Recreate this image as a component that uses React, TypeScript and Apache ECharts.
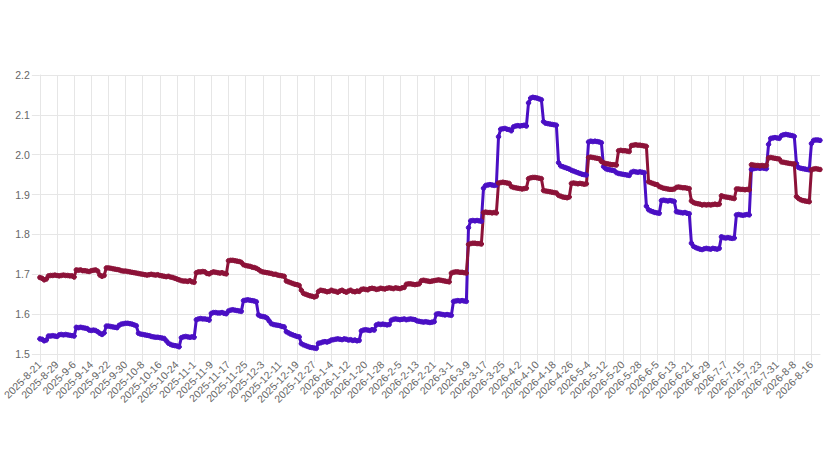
import React, { useEffect, useRef } from "react";
import * as echarts from "echarts";

const START_DATE = [2025, 8, 21];
const DAY_COUNT = 365;
const LABEL_EVERY = 8;
const Y_TICKS = [1.5, 1.6, 1.7, 1.8, 1.9, 2.0, 2.1, 2.2];

// red series, one value per day, 8 days per row
const redSeries = [
  1.692, 1.690, 1.686, 1.688, 1.696, 1.697, 1.697, 1.698,
  1.697, 1.696, 1.697, 1.698, 1.697, 1.697, 1.696, 1.696,
  1.693, 1.711, 1.710, 1.711, 1.709, 1.709, 1.708, 1.707,
  1.709, 1.710, 1.711, 1.708, 1.698, 1.695, 1.697, 1.716,
  1.716, 1.715, 1.714, 1.713, 1.712, 1.711, 1.709, 1.708,
  1.708, 1.707, 1.706, 1.705, 1.704, 1.703, 1.702, 1.701,
  1.700, 1.699, 1.698, 1.699, 1.700, 1.699, 1.698, 1.699,
  1.697, 1.696, 1.695, 1.694, 1.695, 1.693, 1.692, 1.690,
  1.688, 1.686, 1.684, 1.683, 1.683, 1.682, 1.684, 1.681,
  1.680, 1.704, 1.706, 1.706, 1.707, 1.706, 1.702, 1.701,
  1.704, 1.706, 1.705, 1.704, 1.703, 1.704, 1.702, 1.701,
  1.734, 1.735, 1.735, 1.734, 1.733, 1.732, 1.730, 1.724,
  1.722, 1.721, 1.720, 1.718, 1.717, 1.715, 1.712, 1.708,
  1.706, 1.705, 1.704, 1.703, 1.702, 1.700, 1.700, 1.698,
  1.697, 1.696, 1.695, 1.683, 1.681, 1.679, 1.677, 1.675,
  1.674, 1.672, 1.660, 1.652, 1.650, 1.648, 1.646, 1.645,
  1.643, 1.645, 1.657, 1.660, 1.659, 1.658, 1.656, 1.657,
  1.660, 1.658, 1.657, 1.655, 1.658, 1.660, 1.657, 1.655,
  1.658, 1.660, 1.657, 1.656, 1.658, 1.657, 1.662, 1.663,
  1.662, 1.661, 1.664, 1.665, 1.664, 1.662, 1.663, 1.665,
  1.664, 1.663, 1.665, 1.666, 1.665, 1.664, 1.666, 1.665,
  1.664, 1.666, 1.667, 1.675, 1.676, 1.676, 1.675, 1.674,
  1.675, 1.676, 1.684, 1.685, 1.684, 1.683, 1.682, 1.683,
  1.684, 1.685, 1.686, 1.685, 1.684, 1.683, 1.682, 1.681,
  1.703, 1.705, 1.706, 1.706, 1.705, 1.705, 1.704, 1.703,
  1.775, 1.777, 1.778, 1.778, 1.777, 1.777, 1.776, 1.855,
  1.856, 1.855, 1.855, 1.854, 1.855, 1.854, 1.929, 1.930,
  1.931, 1.930, 1.929, 1.928, 1.920, 1.918, 1.917, 1.916,
  1.915, 1.914, 1.915, 1.916, 1.940, 1.942, 1.943, 1.943,
  1.942, 1.941, 1.940, 1.910, 1.909, 1.908, 1.907, 1.906,
  1.905, 1.904, 1.898, 1.896, 1.894, 1.893, 1.892, 1.894,
  1.928, 1.929, 1.928, 1.927, 1.928, 1.927, 1.926, 1.927,
  1.993, 1.994, 1.993, 1.992, 1.991, 1.990, 1.983, 1.980,
  1.978, 1.977, 1.976, 1.975, 1.975, 1.974, 2.010, 2.011,
  2.010, 2.010, 2.009, 2.008, 2.023, 2.024, 2.025, 2.024,
  2.024, 2.023, 2.022, 2.021, 1.932, 1.930, 1.928, 1.926,
  1.925, 1.920, 1.918, 1.916, 1.915, 1.914, 1.913, 1.913,
  1.914, 1.918, 1.919, 1.918, 1.917, 1.917, 1.916, 1.915,
  1.884, 1.880, 1.878, 1.877, 1.876, 1.874, 1.875, 1.874,
  1.875, 1.874, 1.875, 1.876, 1.875, 1.876, 1.897, 1.895,
  1.894, 1.893, 1.892, 1.891, 1.890, 1.914, 1.914, 1.913,
  1.913, 1.912, 1.913, 1.912, 1.975, 1.974, 1.973, 1.973,
  1.972, 1.973, 1.972, 1.973, 1.992, 1.993, 1.992, 1.991,
  1.990, 1.989, 1.982, 1.981, 1.980, 1.979, 1.978, 1.977,
  1.977, 1.895, 1.890, 1.887, 1.885, 1.884, 1.883, 1.882,
  1.962, 1.964, 1.965, 1.964, 1.963,
];

// blue series, one value per day, 8 days per row
const blueSeries = [
  1.538, 1.537, 1.533, 1.535, 1.545, 1.545, 1.546, 1.545,
  1.544, 1.548, 1.549, 1.548, 1.549, 1.548, 1.547, 1.546,
  1.545, 1.567, 1.566, 1.567, 1.566, 1.565, 1.564, 1.560,
  1.559, 1.560, 1.559, 1.556, 1.552, 1.549, 1.553, 1.570,
  1.570, 1.569, 1.568, 1.567, 1.566, 1.572, 1.575, 1.576,
  1.577, 1.577, 1.576, 1.575, 1.573, 1.571, 1.552, 1.550,
  1.549, 1.548, 1.547, 1.546, 1.544, 1.543, 1.542, 1.542,
  1.541, 1.540, 1.539, 1.533, 1.527, 1.524, 1.522, 1.521,
  1.520, 1.518, 1.541, 1.543, 1.544, 1.543, 1.542, 1.543,
  1.542, 1.586, 1.588, 1.589, 1.588, 1.588, 1.587, 1.585,
  1.602, 1.604, 1.604, 1.603, 1.603, 1.604, 1.602, 1.601,
  1.608, 1.610, 1.611, 1.610, 1.609, 1.608, 1.607, 1.634,
  1.635, 1.636, 1.635, 1.634, 1.633, 1.631, 1.598, 1.595,
  1.594, 1.593, 1.590, 1.583, 1.576, 1.574, 1.573, 1.572,
  1.571, 1.569, 1.568, 1.556, 1.553, 1.550, 1.548, 1.546,
  1.544, 1.543, 1.526, 1.523, 1.521, 1.519, 1.517, 1.516,
  1.515, 1.514, 1.527, 1.528, 1.530, 1.531, 1.530, 1.532,
  1.535, 1.536, 1.537, 1.538, 1.537, 1.536, 1.538, 1.537,
  1.535, 1.536, 1.534, 1.535, 1.533, 1.534, 1.558, 1.560,
  1.561, 1.560, 1.559, 1.561, 1.560, 1.573, 1.575, 1.574,
  1.575, 1.574, 1.573, 1.574, 1.585, 1.587, 1.588, 1.587,
  1.586, 1.587, 1.588, 1.586, 1.587, 1.588, 1.587, 1.586,
  1.583, 1.582, 1.581, 1.580, 1.581, 1.580, 1.579, 1.580,
  1.581, 1.600, 1.601, 1.600, 1.599, 1.598, 1.599, 1.598,
  1.597, 1.632, 1.633, 1.634, 1.633, 1.634, 1.633, 1.632,
  1.817, 1.834, 1.835, 1.834, 1.835, 1.834, 1.833, 1.916,
  1.923, 1.924, 1.925, 1.924, 1.923, 1.924, 2.045, 2.064,
  2.065, 2.066, 2.064, 2.063, 2.060, 2.070, 2.072, 2.073,
  2.072, 2.073, 2.074, 2.072, 2.130, 2.142, 2.144, 2.143,
  2.142, 2.140, 2.138, 2.083, 2.079, 2.078, 2.077, 2.076,
  2.075, 2.074, 1.980, 1.972, 1.970, 1.968, 1.966, 1.964,
  1.961, 1.959, 1.957, 1.955, 1.953, 1.951, 1.950, 1.949,
  2.032, 2.034, 2.033, 2.034, 2.033, 2.032, 2.030, 1.970,
  1.965, 1.963, 1.962, 1.961, 1.960, 1.955, 1.953, 1.952,
  1.951, 1.950, 1.949, 1.948, 1.956, 1.958, 1.957, 1.956,
  1.957, 1.956, 1.955, 1.871, 1.862, 1.859, 1.857, 1.855,
  1.854, 1.853, 1.885, 1.886, 1.885, 1.884, 1.885, 1.884,
  1.883, 1.857, 1.856, 1.855, 1.854, 1.855, 1.853, 1.852,
  1.778, 1.770, 1.767, 1.765, 1.763, 1.762, 1.764, 1.765,
  1.764, 1.763, 1.765, 1.764, 1.763, 1.765, 1.794, 1.792,
  1.791, 1.792, 1.791, 1.790, 1.791, 1.849, 1.850, 1.849,
  1.848, 1.849, 1.850, 1.849, 1.963, 1.965, 1.966, 1.967,
  1.966, 1.967, 1.966, 1.965, 2.026, 2.041, 2.042, 2.043,
  2.042, 2.041, 2.048, 2.050, 2.051, 2.050, 2.049, 2.048,
  2.046, 1.978, 1.968, 1.966, 1.965, 1.964, 1.963, 1.962,
  2.028, 2.036, 2.037, 2.037, 2.036,
];

const RED = "#8c1238";
const BLUE = "#4a0fc4";

function buildDates(): string[] {
  const out: string[] = [];
  const d = new Date(Date.UTC(START_DATE[0], START_DATE[1] - 1, START_DATE[2]));
  for (let i = 0; i < DAY_COUNT; i++) {
    out.push(`${d.getUTCFullYear()}-${d.getUTCMonth() + 1}-${d.getUTCDate()}`);
    d.setUTCDate(d.getUTCDate() + 1);
  }
  return out;
}

export default function App() {
  const ref = useRef<HTMLDivElement>(null);
  useEffect(() => {
    if (!ref.current) return;
    const chart = echarts.init(ref.current, undefined, { renderer: "svg" });
    const dates = buildDates();
    const gridColor = "#e6e6e6";
    const labelColor = "#666";
    const font = "Liberation Sans, Arial, Helvetica, sans-serif";
    const mkSeries = (name: string, data: number[], color: string) => ({
      name,
      type: "line",
      data,
      symbol: "circle",
      symbolSize: 4.5,
      showSymbol: true,
      showAllSymbol: true,
      lineStyle: { color, width: 3 },
      itemStyle: { color, borderColor: color, borderWidth: 1 },
      emphasis: { disabled: true },
    });
    chart.setOption({
      animation: false,
      backgroundColor: "#fff",
      grid: { left: 33, right: 20, top: 75, bottom: 119, containLabel: false },
      xAxis: {
        type: "category",
        data: dates,
        boundaryGap: false,
        axisLine: { show: true, lineStyle: { color: gridColor } },
        axisTick: {
          show: true,
          interval: LABEL_EVERY - 1,
          length: 8,
          lineStyle: { color: gridColor },
        },
        splitLine: {
          show: true,
          interval: LABEL_EVERY - 1,
          lineStyle: { color: gridColor },
        },
        axisLabel: {
          interval: LABEL_EVERY - 1,
          rotate: 45,
          fontSize: 10.5,
          color: labelColor,
          fontFamily: font,
          margin: 9,
        },
      },
      yAxis: {
        type: "value",
        min: Y_TICKS[0],
        max: Y_TICKS[Y_TICKS.length - 1],
        interval: 0.1,
        axisLine: { show: true, lineStyle: { color: gridColor } },
        axisTick: { show: true, length: 8, lineStyle: { color: gridColor } },
        splitLine: { show: true, lineStyle: { color: gridColor } },
        axisLabel: {
          fontSize: 10.5,
          color: labelColor,
          fontFamily: font,
          margin: 10,
          formatter: (v: number) => v.toFixed(1),
        },
      },
      series: [mkSeries("blue", blueSeries, BLUE), mkSeries("red", redSeries, RED)],
    });
    return () => chart.dispose();
  }, []);
  return (
    <div
      ref={ref}
      style={{ position: "fixed", left: 0, top: 0, width: 840, height: 473, background: "#fff" }}
    />
  );
}
